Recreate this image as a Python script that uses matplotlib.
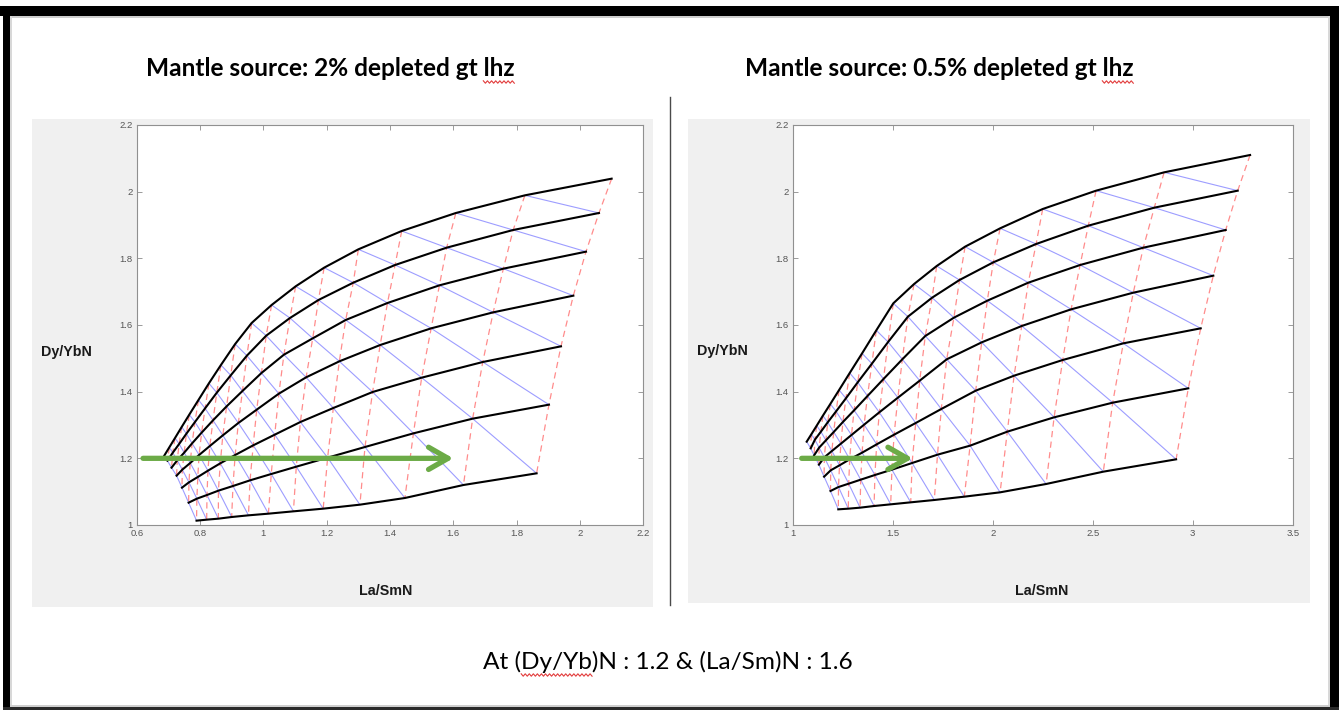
import numpy as np
import matplotlib
matplotlib.use("Agg")
import matplotlib.pyplot as plt
from matplotlib.patches import Rectangle, FancyArrowPatch

# ---------------------------------------------------------------------------
# Melting grid, 2% depleted garnet lherzolite source.
# Each inner list is one black curve (top curve first); point j of every
# curve shares the same blue tie-line, points with equal (curve + j) share
# the same red dashed tie-line.
# ---------------------------------------------------------------------------
lasm_2pct = [
    [0.687, 0.703, 0.721, 0.742, 0.766, 0.795, 0.828, 0.866, 0.911, 0.963, 1.026, 1.102, 1.192, 1.300, 1.437, 1.608, 1.826, 2.100],
    [0.697, 0.714, 0.734, 0.757, 0.784, 0.816, 0.853, 0.897, 0.948, 1.009, 1.084, 1.174, 1.284, 1.416, 1.579, 1.789, 2.060],
    [0.710, 0.728, 0.750, 0.775, 0.805, 0.841, 0.884, 0.934, 0.994, 1.065, 1.156, 1.260, 1.392, 1.556, 1.758, 2.019],
    [0.726, 0.744, 0.769, 0.797, 0.831, 0.872, 0.921, 0.979, 1.049, 1.135, 1.240, 1.369, 1.530, 1.726, 1.979],
    [0.743, 0.765, 0.793, 0.825, 0.864, 0.911, 0.968, 1.036, 1.117, 1.221, 1.345, 1.500, 1.693, 1.940],
    [0.764, 0.790, 0.822, 0.858, 0.904, 0.958, 1.025, 1.104, 1.203, 1.321, 1.474, 1.661, 1.902],
    [0.789, 0.821, 0.858, 0.900, 0.953, 1.016, 1.095, 1.189, 1.305, 1.447, 1.632, 1.863],
]
dyyb_2pct = [
    [1.208, 1.233, 1.261, 1.294, 1.331, 1.375, 1.425, 1.480, 1.543, 1.606, 1.660, 1.716, 1.772, 1.827, 1.882, 1.936, 1.989, 2.039],
    [1.193, 1.217, 1.243, 1.274, 1.309, 1.350, 1.397, 1.449, 1.508, 1.568, 1.621, 1.675, 1.727, 1.780, 1.832, 1.885, 1.936],
    [1.172, 1.194, 1.217, 1.245, 1.277, 1.314, 1.356, 1.402, 1.456, 1.511, 1.560, 1.615, 1.666, 1.719, 1.769, 1.820],
    [1.148, 1.166, 1.186, 1.210, 1.237, 1.269, 1.306, 1.346, 1.394, 1.443, 1.491, 1.540, 1.590, 1.638, 1.688],
    [1.112, 1.128, 1.144, 1.163, 1.185, 1.210, 1.239, 1.271, 1.309, 1.351, 1.399, 1.442, 1.489, 1.536],
    [1.067, 1.079, 1.090, 1.103, 1.117, 1.134, 1.153, 1.175, 1.202, 1.234, 1.275, 1.319, 1.361],
    [1.013, 1.016, 1.019, 1.024, 1.029, 1.034, 1.041, 1.049, 1.061, 1.081, 1.120, 1.155],
]

# Melting grid, 0.5% depleted garnet lherzolite source.
lasm_05pct = [
    [1.070, 1.093, 1.120, 1.151, 1.188, 1.232, 1.285, 1.347, 1.418, 1.503, 1.607, 1.720, 1.862, 2.037, 2.250, 2.517, 2.857, 3.287],
    [1.090, 1.111, 1.141, 1.175, 1.217, 1.266, 1.325, 1.396, 1.477, 1.576, 1.697, 1.834, 2.003, 2.217, 2.478, 2.808, 3.225],
    [1.107, 1.132, 1.166, 1.205, 1.251, 1.307, 1.374, 1.454, 1.548, 1.663, 1.806, 1.973, 2.178, 2.437, 2.753, 3.165],
    [1.131, 1.158, 1.196, 1.241, 1.294, 1.357, 1.433, 1.526, 1.635, 1.770, 1.945, 2.145, 2.392, 2.703, 3.103],
    [1.157, 1.190, 1.234, 1.285, 1.347, 1.420, 1.507, 1.615, 1.743, 1.915, 2.107, 2.350, 2.653, 3.040],
    [1.189, 1.229, 1.280, 1.340, 1.411, 1.496, 1.597, 1.724, 1.887, 2.073, 2.307, 2.600, 2.978],
    [1.228, 1.278, 1.337, 1.407, 1.490, 1.590, 1.708, 1.858, 2.037, 2.267, 2.553, 2.917],
]
dyyb_05pct = [
    [1.250, 1.272, 1.298, 1.328, 1.363, 1.405, 1.456, 1.515, 1.584, 1.665, 1.723, 1.777, 1.835, 1.890, 1.948, 2.003, 2.058, 2.110],
    [1.230, 1.256, 1.280, 1.308, 1.341, 1.380, 1.428, 1.484, 1.549, 1.625, 1.682, 1.735, 1.788, 1.843, 1.898, 1.952, 2.003],
    [1.209, 1.232, 1.254, 1.279, 1.309, 1.344, 1.387, 1.438, 1.497, 1.567, 1.622, 1.673, 1.727, 1.780, 1.832, 1.885],
    [1.181, 1.203, 1.222, 1.244, 1.270, 1.301, 1.338, 1.382, 1.433, 1.497, 1.548, 1.597, 1.647, 1.697, 1.748],
    [1.145, 1.164, 1.179, 1.197, 1.217, 1.242, 1.271, 1.306, 1.348, 1.403, 1.448, 1.495, 1.545, 1.590],
    [1.102, 1.114, 1.124, 1.136, 1.150, 1.166, 1.186, 1.211, 1.238, 1.280, 1.323, 1.367, 1.410],
    [1.047, 1.049, 1.052, 1.057, 1.062, 1.068, 1.075, 1.085, 1.098, 1.123, 1.160, 1.197],
]

# Axis ticks
xticks_2pct = [0.6, 0.8, 1.0, 1.2, 1.4, 1.6, 1.8, 2.0, 2.2]
xticklabels_2pct = ["0.6", "0.8", "1", "1.2", "1.4", "1.6", "1.8", "2", "2.2"]
xticks_05pct = [1.0, 1.5, 2.0, 2.5, 3.0, 3.5]
xticklabels_05pct = ["1", "1.5", "2", "2.5", "3", "3.5"]
yticks = [1.0, 1.2, 1.4, 1.6, 1.8, 2.0, 2.2]
yticklabels = ["1", "1.2", "1.4", "1.6", "1.8", "2", "2.2"]

# Target composition marked by the green arrows
target_dyyb = 1.2
target_lasm = 1.6
arrow_start_2pct = 0.62
arrow_start_05pct = 1.045

titles = ["Mantle source: 2% depleted gt lhz", "Mantle source: 0.5% depleted gt lhz"]
note = "At (Dy/Yb)N : 1.2 & (La/Sm)N : 1.6"

# ---------------------------------------------------------------------------
W, H = 1344, 711
fig = plt.figure(figsize=(W / 100, H / 100), dpi=100)
fig.patch.set_facecolor("white")

TITLE_FONT = ["Lato", "DejaVu Sans"]
AX_FONT = ["Liberation Sans", "DejaVu Sans"]
BLUE = "#9d9dff"
RED = "#ff8c8c"
GREEN = "#6cab47"


def fx(x):
    return x / W


def fy(y):
    return 1 - y / H


def rect(x0, y0, x1, y1, color, z=-5):
    fig.add_artist(Rectangle((fx(x0), fy(y1)), (x1 - x0) / W, (y1 - y0) / H,
                             transform=fig.transFigure, facecolor=color,
                             edgecolor="none", zorder=z))


# Slide frame
rect(0, 6, 1339, 16, "black", z=10)
rect(3, 6, 10, 710, "black", z=10)
rect(1330, 6, 1339, 710, "black", z=10)
rect(3, 707, 1339, 710, "#2a2a2a", z=10)
rect(10, 16, 1330, 18, "#cfcfcf", z=9)
rect(10, 16, 12, 707, "#d8d8d8", z=9)
rect(1328, 16, 1330, 707, "#d8d8d8", z=9)
rect(10, 705, 1330, 707, "#cfcfcf", z=9)

# Figure backgrounds of the two plots
rect(32, 119, 653, 607, "#f0f0f0")
rect(688, 119, 1310, 603, "#f0f0f0")

# Divider between the plots
fig.add_artist(plt.Line2D([fx(670), fx(670)], [fy(97), fy(605)],
                          transform=fig.transFigure, color="#4a4a4a", lw=1.0))


def draw_grid(ax, xs, ys):
    ncurves = len(xs)
    longest = max(len(c) for c in xs)
    # blue tie-lines: same point index on every curve
    for j in range(longest):
        pts = [(xs[k][j], ys[k][j]) for k in range(ncurves) if j < len(xs[k])]
        if len(pts) > 1:
            px, py = zip(*pts)
            ax.plot(px, py, color=BLUE, lw=0.8, zorder=2, solid_capstyle="butt")
    # red dashed tie-lines: constant curve + point index
    for r in range(longest + ncurves):
        pts = [(xs[k][r - k], ys[k][r - k]) for k in range(ncurves)
               if 0 <= r - k < len(xs[k])]
        if len(pts) > 1:
            px, py = zip(*pts)
            ax.plot(px, py, color=RED, lw=0.9, ls=(0, (5, 3.5)), zorder=2)
    for k in range(ncurves):
        ax.plot(xs[k], ys[k], color="black", lw=1.5, zorder=3,
                solid_joinstyle="round")


def style_axes(ax, xlim, xt, xtl):
    ax.set_xlim(*xlim)
    ax.set_ylim(1.0, 2.2)
    ax.set_xticks(xt)
    ax.set_xticklabels(xtl)
    ax.set_yticks(yticks)
    ax.set_yticklabels(yticklabels)
    ax.tick_params(direction="in", top=True, right=True, length=3.5, width=0.6,
                   color="#8a8a8a", labelsize=6.8, labelcolor="#555555", pad=3)
    for lab in ax.get_xticklabels() + ax.get_yticklabels():
        lab.set_family(AX_FONT)
    for sp in ax.spines.values():
        sp.set_color("#909090")
        sp.set_linewidth(0.8)
    ax.set_facecolor("white")


def draw_arrow(ax, x0):
    arr = FancyArrowPatch((x0, target_dyyb), (target_lasm, target_dyyb),
                          arrowstyle="->,head_length=1.4,head_width=0.8",
                          mutation_scale=10, lw=3.8, color=GREEN,
                          shrinkA=0, shrinkB=0, zorder=5,
                          capstyle="round", joinstyle="round")
    ax.add_patch(arr)


ax1 = fig.add_axes([136.7 / W, 186 / H, 506.6 / W, 400 / H])
draw_grid(ax1, lasm_2pct, dyyb_2pct)
style_axes(ax1, (0.6, 2.2), xticks_2pct, xticklabels_2pct)
draw_arrow(ax1, arrow_start_2pct)

ax2 = fig.add_axes([792.7 / W, 186 / H, 500 / W, 400 / H])
draw_grid(ax2, lasm_05pct, dyyb_05pct)
style_axes(ax2, (1.0, 3.5), xticks_05pct, xticklabels_05pct)
draw_arrow(ax2, arrow_start_05pct)

# Axis labels
LABEL_KW = dict(ha="center", va="center", fontsize=10.3, fontweight="bold",
                family=AX_FONT, color="#1a1a1a")
fig.text(fx(66), fy(352), "Dy/YbN", **LABEL_KW)
fig.text(fx(722), fy(351), "Dy/YbN", **LABEL_KW)
fig.text(fx(386), fy(591), "La/SmN", **LABEL_KW)
fig.text(fx(1042), fy(591), "La/SmN", **LABEL_KW)

# Titles and note
t1 = fig.text(fx(330), fy(76), titles[0], ha="center", va="baseline",
              fontsize=17.6, fontweight="bold", family=TITLE_FONT)
t2 = fig.text(fx(939), fy(76), titles[1], ha="center", va="baseline",
              fontsize=17.6, fontweight="bold", family=TITLE_FONT)
t3 = fig.text(fx(668), fy(669), note, ha="center", va="baseline",
              fontsize=17.6, fontweight="normal", family=TITLE_FONT)

# Red wavy spell-check underlines
renderer = fig.canvas.get_renderer()


def span_of(text_obj, prefix, word):
    full = text_obj.get_window_extent(renderer)
    tmp = fig.text(0, 0, prefix, fontsize=text_obj.get_fontsize(),
                   fontweight=text_obj.get_fontweight(), family=TITLE_FONT)
    w_pre = tmp.get_window_extent(renderer).width
    tmp.set_text(prefix + word)
    w_word = tmp.get_window_extent(renderer).width
    tmp.remove()
    return full.x0 + w_pre, full.x0 + w_word


def squiggle(x0_disp, x1_disp, y_px):
    n = max(int((x1_disp - x0_disp) / 2.0), 2)
    xs = np.linspace(x0_disp, x1_disp, n + 1) / W
    ys = np.array([fy(y_px + (1.2 if i % 2 else -1.2)) for i in range(n + 1)])
    fig.add_artist(plt.Line2D(xs, ys, transform=fig.transFigure,
                              color="#e23b3b", lw=0.8))


a, b = span_of(t1, "Mantle source: 2% depleted gt ", "lhz")
squiggle(a, b, 82)
a, b = span_of(t2, "Mantle source: 0.5% depleted gt ", "lhz")
squiggle(a, b, 82)
a, b = span_of(t3, "At (", "Dy/Yb")
squiggle(a, b, 675)

fig.savefig("out.png", dpi=100, facecolor="white")
